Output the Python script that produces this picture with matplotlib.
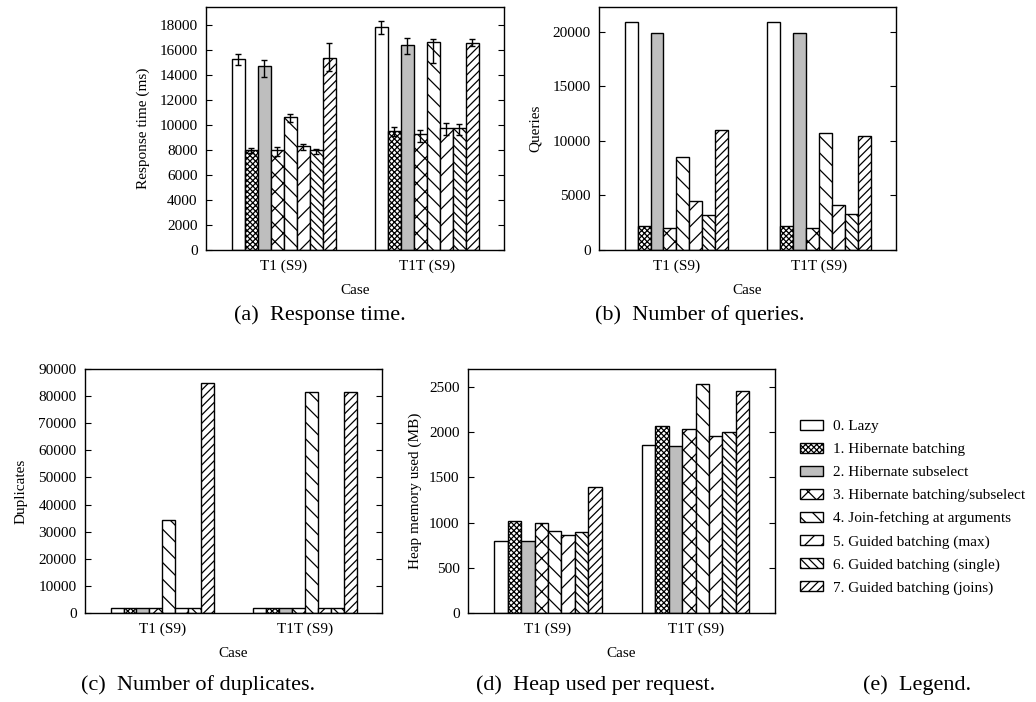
import numpy as np
import matplotlib
matplotlib.use("Agg")
import matplotlib.pyplot as plt
from matplotlib.patches import Patch

plt.rcParams['font.family'] = ['Liberation Serif', 'DejaVu Serif']
plt.rcParams['hatch.linewidth'] = 0.9
plt.rcParams['hatch.color'] = 'black'

cases = ['T1 (S9)', 'T1T (S9)']
strategies = ['0. Lazy', '1. Hibernate batching', '2. Hibernate subselect',
              '3. Hibernate batching/subselect', '4. Join-fetching at arguments',
              '5. Guided batching (max)', '6. Guided batching (single)',
              '7. Guided batching (joins)']

# response time (ms) with lower/upper error
resp_t1 = [15300, 8000, 14760, 8000, 10690, 8300, 7980, 15400]
resp_t1t = [17900, 9570, 16460, 9280, 16700, 9810, 9760, 16600]
resp_lo_t1 = [500, 240, 880, 500, 400, 270, 270, 1060]
resp_hi_t1 = [430, 210, 450, 290, 210, 190, 110, 1170]
resp_lo_t1t = [610, 430, 720, 590, 1750, 590, 530, 270]
resp_hi_t1t = [450, 320, 530, 350, 240, 350, 350, 270]

queries_t1 = [20910, 2220, 19820, 2000, 8510, 4500, 3220, 11000]
queries_t1t = [20910, 2220, 19820, 2000, 10670, 4100, 3310, 10430]

dup_t1 = [1850, 1850, 1850, 1850, 34200, 1850, 1850, 84800]
dup_t1t = [1850, 1850, 1850, 1850, 81500, 1850, 1850, 81500]

heap_t1 = [799, 1013, 791, 991, 910, 862, 891, 1390]
heap_t1t = [1860, 2071, 1845, 2041, 2533, 1953, 2004, 2452]

# gnuplot-like fill patterns
fills = ['white', 'white', '#bebebe', 'white', 'white', 'white', 'white', 'white']
hatches = [None, 'xxxxxx', None, 'xx', '\\\\', '//', '\\\\\\\\', '////']

BW = 0.0907
FS = 11


def draw_panel(ax, t1, t1t, ylabel, ymax, step, lab_x, err=None):
    for i in range(len(strategies)):
        xs = np.arange(len(cases)) + (i - 3.5) * BW
        vals = [t1[i], t1t[i]]
        ax.bar(xs, vals, BW, color=fills[i], edgecolor='black', linewidth=1.0,
               hatch=hatches[i], zorder=2)
        if err is not None:
            lo, hi = err
            ax.errorbar(xs, vals, yerr=[[lo[0][i], lo[1][i]], [hi[0][i], hi[1][i]]],
                        fmt='none', ecolor='black', elinewidth=1.0,
                        capsize=2.5, capthick=1.0, zorder=3)
    ax.set_xlim(-0.542, 1.537)
    ax.set_ylim(0, ymax)
    ax.set_yticks(np.arange(0, ymax, step))
    ax.set_xticks(range(len(cases)))
    ax.set_xticklabels(cases, fontsize=FS)
    ax.tick_params(axis='x', length=0, pad=7)
    ax.tick_params(axis='y', direction='in', length=4, right=True,
                   labelsize=FS, pad=6)
    ax.set_xlabel('Case', fontsize=FS, labelpad=8)
    ax.set_ylabel(ylabel, fontsize=FS)
    ax.yaxis.set_label_coords(lab_x, 0.5)
    for sp in ax.spines.values():
        sp.set_linewidth(1.0)


fig = plt.figure(figsize=(10.36, 7.02), dpi=100)

ax_a = fig.add_axes([0.1988, 0.6439, 0.2876, 0.3462])
draw_panel(ax_a, resp_t1, resp_t1t, 'Response time (ms)', 19470, 2000, -0.188,
           err=((resp_lo_t1, resp_lo_t1t), (resp_hi_t1, resp_hi_t1t)))

ax_b = fig.add_axes([0.5782, 0.6439, 0.2867, 0.3462])
draw_panel(ax_b, queries_t1, queries_t1t, 'Queries', 22250, 5000, -0.192)

ax_c = fig.add_axes([0.0820, 0.1268, 0.2867, 0.3476])
draw_panel(ax_c, dup_t1, dup_t1t, 'Duplicates', 90001, 10000, -0.195)

ax_d = fig.add_axes([0.4517, 0.1268, 0.2963, 0.3476])
draw_panel(ax_d, heap_t1, heap_t1t, 'Heap memory used (MB)', 2700, 500, -0.150)

# legend panel
handles = [Patch(facecolor=fills[i], edgecolor='black', linewidth=1.0,
                 hatch=hatches[i]) for i in range(len(strategies))]
fig.legend(handles, strategies, loc='upper left', bbox_to_anchor=(0.772, 0.402),
           frameon=False, fontsize=11, handlelength=1.5, handleheight=0.62,
           handletextpad=0.65, labelspacing=0.63, borderpad=0, borderaxespad=0)

# sub-figure captions
cap_fs = 16
fig.text(0.309, 0.5513, '(a)  Response time.', ha='center', va='center', fontsize=cap_fs)
fig.text(0.6757, 0.5513, '(b)  Number of queries.', ha='center', va='center', fontsize=cap_fs)
fig.text(0.191, 0.0242, '(c)  Number of duplicates.', ha='center', va='center', fontsize=cap_fs)
fig.text(0.575, 0.0242, '(d)  Heap used per request.', ha='center', va='center', fontsize=cap_fs)
fig.text(0.885, 0.0242, '(e)  Legend.', ha='center', va='center', fontsize=cap_fs)

fig.savefig('out.png', dpi=100)
